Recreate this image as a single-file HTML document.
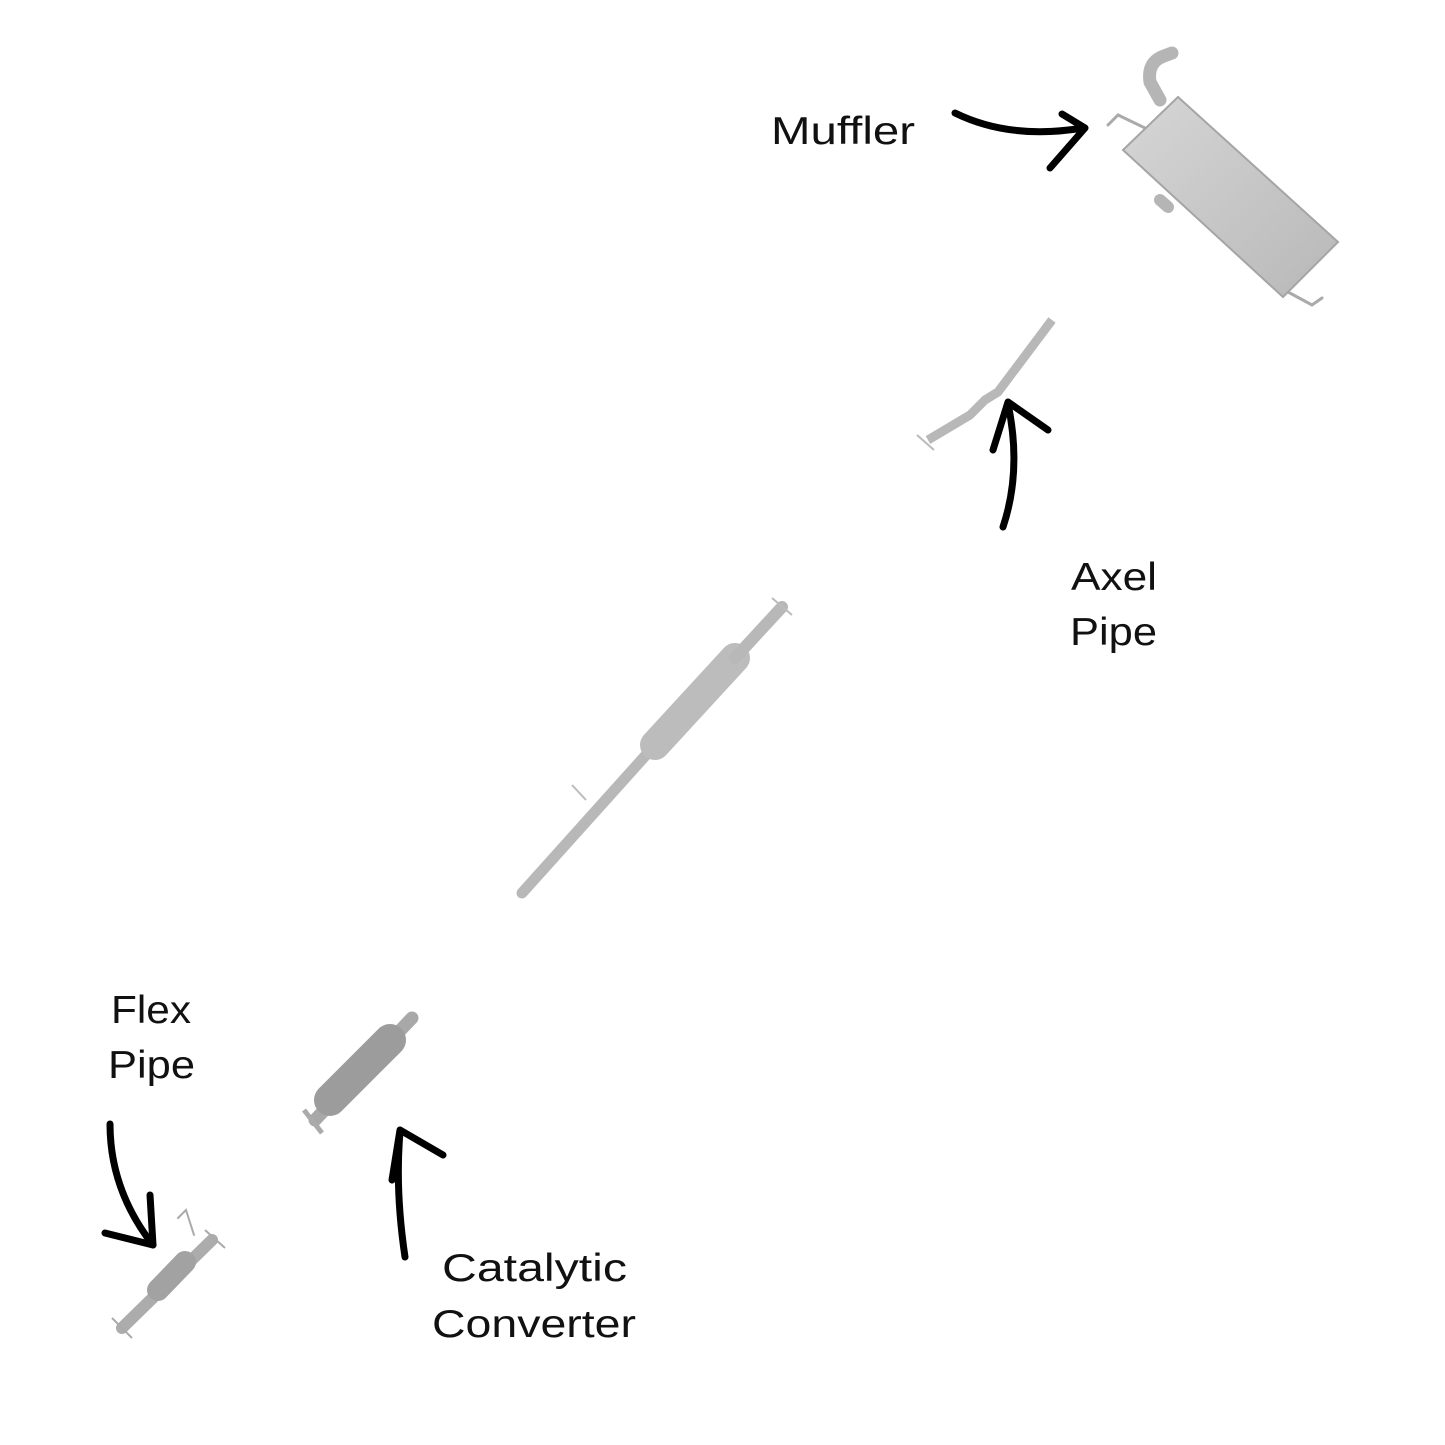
<!DOCTYPE html>
<html><head><meta charset="utf-8"><style>
html,body{margin:0;padding:0;background:#fff;}
svg{display:block}
text{font-family:"Liberation Sans",sans-serif;font-size:39px;fill:#111}
</style></head><body>
<svg width="1445" height="1445" viewBox="0 0 1445 1445" xmlns="http://www.w3.org/2000/svg">
<defs>
<linearGradient id="g" x1="0" y1="0" x2="1" y2="1"><stop offset="0" stop-color="#d6d6d6"/><stop offset="1" stop-color="#b8b8b8"/></linearGradient>
</defs>
<!-- Muffler -->
<g stroke-linecap="round" fill="none">
<path d="M1160 100 L1150 82 Q1147 62 1164 56 L1172 53" stroke="#b5b5b5" stroke-width="13"/>
<polyline points="1108,125 1118,115 1145,128" stroke="#aaa" stroke-width="3"/>
<polyline points="1288,292 1312,305 1322,298" stroke="#aaa" stroke-width="3"/>
<line x1="1160" y1="200" x2="1168" y2="207" stroke="#b5b5b5" stroke-width="12"/>
</g>
<polygon points="1123,150 1178,97 1338,242 1283,297" fill="url(#g)" stroke="#a5a5a5" stroke-width="2"/>
<!-- Axel pipe -->
<polyline points="1052,320 998,392 985,400 970,415 928,440" fill="none" stroke="#b8b8b8" stroke-width="9" stroke-linejoin="round"/>
<line x1="917" y1="435" x2="934" y2="450" stroke="#bbb" stroke-width="2"/>
<!-- Middle pipe -->
<g stroke-linecap="round" fill="none">
<line x1="522" y1="893" x2="655" y2="745" stroke="#b8b8b8" stroke-width="11"/>
<line x1="655" y1="745" x2="735" y2="658" stroke="#bcbcbc" stroke-width="30"/>
<line x1="735" y1="658" x2="782" y2="607" stroke="#b8b8b8" stroke-width="12"/>
</g>
<line x1="772" y1="598" x2="792" y2="615" stroke="#bbb" stroke-width="2"/>
<line x1="572" y1="785" x2="586" y2="800" stroke="#bbb" stroke-width="2"/>
<!-- Catalytic converter -->
<g stroke-linecap="round" fill="none">
<line x1="315" y1="1120" x2="412" y2="1018" stroke="#a8a8a8" stroke-width="13"/>
<line x1="330" y1="1100" x2="390" y2="1040" stroke="#9c9c9c" stroke-width="32"/>
</g>
<line x1="304" y1="1110" x2="322" y2="1133" stroke="#aaa" stroke-width="5"/>
<!-- Flex pipe -->
<g stroke-linecap="round" fill="none">
<line x1="122" y1="1328" x2="212" y2="1240" stroke="#acacac" stroke-width="12"/>
<line x1="158" y1="1290" x2="185" y2="1262" stroke="#a2a2a2" stroke-width="22"/>
<polyline points="178,1218 186,1210 194,1235" stroke="#aaa" stroke-width="2"/>
</g>
<line x1="112" y1="1318" x2="132" y2="1338" stroke="#aaa" stroke-width="2"/>
<line x1="205" y1="1230" x2="225" y2="1248" stroke="#aaa" stroke-width="2"/>
<!-- Arrows -->
<g fill="none" stroke="#000" stroke-width="7" stroke-linecap="round" stroke-linejoin="round">
<path d="M955 113 Q1010 140 1083 128"/>
<path d="M1062 114 L1085 128 L1050 168"/>
<path d="M1003 527 Q1022 470 1008 404"/>
<path d="M993 450 L1008 402 L1048 430"/>
<path d="M405 1257 Q395 1190 400 1132"/>
<path d="M392 1180 L400 1130 L443 1155"/>
<path d="M110 1124 Q110 1190 153 1245"/>
<path d="M105 1233 L153 1245 L150 1195"/>
</g>
<!-- Labels -->
<text x="771" y="144" textLength="144" lengthAdjust="spacingAndGlyphs">Muffler</text>
<text x="1071" y="590" textLength="86" lengthAdjust="spacingAndGlyphs">Axel</text>
<text x="1070" y="645" textLength="87" lengthAdjust="spacingAndGlyphs">Pipe</text>
<text x="111" y="1023" textLength="80" lengthAdjust="spacingAndGlyphs">Flex</text>
<text x="108" y="1078" textLength="87" lengthAdjust="spacingAndGlyphs">Pipe</text>
<text x="442" y="1281" textLength="185" lengthAdjust="spacingAndGlyphs">Catalytic</text>
<text x="432" y="1337" textLength="204" lengthAdjust="spacingAndGlyphs">Converter</text>
</svg>
</body></html>
